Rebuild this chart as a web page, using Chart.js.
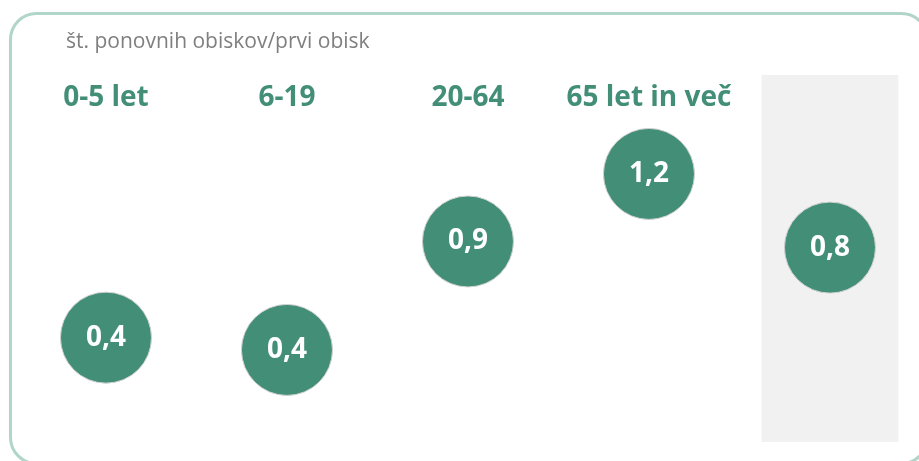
<!DOCTYPE html>
<html>
<head>
<meta charset="utf-8">
<script src="https://cdn.jsdelivr.net/npm/chart.js@4/dist/chart.umd.min.js"></script>
<style>
  html, body { margin: 0; padding: 0; background: #ffffff; overflow: hidden; }
  canvas { display: block; }
</style>
</head>
<body>
<canvas id="c" width="919" height="461"></canvas>
<script>
const titleText = 'št. ponovnih obiskov/prvi obisk';
const categories = ['0-5 let', '6-19', '20-64', '65 let in več', 'SKUPAJ'];
const values = [0.40, 0.34, 0.87, 1.20, 0.84];
const valueLabels = ['0,4', '0,4', '0,9', '1,2', '0,8'];
const highlightIndex = 4;

const GREEN = '#428e77';

const decor = {
  id: 'decor',
  beforeDraw(chart) {
    const ctx = chart.ctx;
    ctx.save();
    // rounded frame
    ctx.strokeStyle = '#b1d5c9';
    ctx.lineWidth = 3;
    ctx.beginPath();
    ctx.roundRect(10.5, 13.5, 917, 450, 26);
    ctx.stroke();
    // title
    ctx.fillStyle = '#7f7f7f';
    ctx.font = '21px "Open Sans"';
    ctx.textBaseline = 'middle';
    ctx.textAlign = 'left';
    ctx.fillText(titleText, 66, 42);
    ctx.restore();
  },
  beforeDatasetsDraw(chart) {
    const ctx = chart.ctx, x = chart.scales.x, area = chart.chartArea;
    const l = x.getPixelForValue(highlightIndex - 0.378);
    const r = x.getPixelForValue(highlightIndex + 0.378);
    ctx.save();
    ctx.fillStyle = '#f1f1f1';
    ctx.fillRect(l, 75, r - l, area.bottom - 75);
    ctx.restore();
  },
  afterDatasetsDraw(chart) {
    const ctx = chart.ctx;
    const meta = chart.getDatasetMeta(0);
    ctx.save();
    ctx.fillStyle = '#ffffff';
    ctx.font = 'bold 28px "Open Sans"';
    ctx.textAlign = 'center';
    ctx.textBaseline = 'alphabetic';
    meta.data.forEach((el, i) => {
      ctx.fillText(valueLabels[i], el.x, el.y + 8);
    });
    ctx.restore();
  }
};

new Chart(document.getElementById('c'), {
  type: 'bubble',
  data: {
    datasets: [{
      data: values.map((v, i) => ({ x: i, y: v, r: 45.5 })),
      backgroundColor: GREEN,
      borderColor: '#d2d2d2',
      borderWidth: 1,
      hoverBorderWidth: 1,
      hoverRadius: 0
    }]
  },
  options: {
    responsive: false,
    animation: false,
    events: [],
    layout: { autoPadding: false, padding: { left: 20, right: 19, top: 75, bottom: 19 } },
    plugins: { legend: { display: false }, tooltip: { enabled: false }, title: { display: false } },
    scales: {
      x: {
        type: 'linear',
        position: 'top',
        min: -0.475,
        max: 4.387,
        afterBuildTicks(scale) { scale.ticks = categories.map((c, i) => ({ value: i })); },
        ticks: {
          autoSkip: false,
          maxRotation: 0,
          padding: 6,
          color: GREEN,
          font: { family: '"Open Sans"', size: 28, weight: 'bold' },
          callback: (v) => categories[v]
        },
        grid: { display: false, drawTicks: false },
        border: { display: false }
      },
      y: {
        display: false,
        min: -0.11,
        max: 1.4606
      }
    }
  },
  plugins: [decor]
});
</script>
</body>
</html>
